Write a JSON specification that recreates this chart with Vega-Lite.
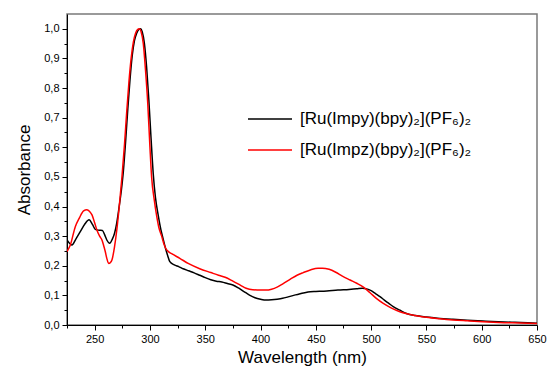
{
  "$schema": "https://vega.github.io/schema/vega-lite/v6.json",
  "width": 470,
  "height": 311,
  "autosize": "none",
  "padding": {"left": 67, "top": 14, "right": 10, "bottom": 47},
  "background": "white",
  "config": {
    "view": {"stroke": "#7a7a7a", "strokeWidth": 1.5},
    "axis": {
      "labelFont": "Liberation Sans", "labelFontSize": 11, "labelColor": "#000",
      "titleFont": "Liberation Sans", "titleFontSize": 17, "titleFontWeight": "normal", "titleColor": "#000",
      "domainColor": "#000", "tickColor": "#000", "domainWidth": 1, "tickWidth": 1, "grid": false
    },
    "legend": {
      "labelFont": "Liberation Sans", "labelFontSize": 17, "labelColor": "#000", "labelLimit": 0
    }
  },
  "data": {
    "values": [
      {"nm":225,"A":0.287,"s":"[Ru(Impy)(bpy)₂](PF₆)₂"},
      {"nm":229.5,"A":0.27,"s":"[Ru(Impy)(bpy)₂](PF₆)₂"},
      {"nm":233,"A":0.29,"s":"[Ru(Impy)(bpy)₂](PF₆)₂"},
      {"nm":237,"A":0.315,"s":"[Ru(Impy)(bpy)₂](PF₆)₂"},
      {"nm":241,"A":0.34,"s":"[Ru(Impy)(bpy)₂](PF₆)₂"},
      {"nm":245,"A":0.355,"s":"[Ru(Impy)(bpy)₂](PF₆)₂"},
      {"nm":248,"A":0.34,"s":"[Ru(Impy)(bpy)₂](PF₆)₂"},
      {"nm":250.6,"A":0.323,"s":"[Ru(Impy)(bpy)₂](PF₆)₂"},
      {"nm":254,"A":0.32,"s":"[Ru(Impy)(bpy)₂](PF₆)₂"},
      {"nm":257,"A":0.319,"s":"[Ru(Impy)(bpy)₂](PF₆)₂"},
      {"nm":259,"A":0.305,"s":"[Ru(Impy)(bpy)₂](PF₆)₂"},
      {"nm":261,"A":0.287,"s":"[Ru(Impy)(bpy)₂](PF₆)₂"},
      {"nm":263.6,"A":0.276,"s":"[Ru(Impy)(bpy)₂](PF₆)₂"},
      {"nm":266,"A":0.29,"s":"[Ru(Impy)(bpy)₂](PF₆)₂"},
      {"nm":268,"A":0.31,"s":"[Ru(Impy)(bpy)₂](PF₆)₂"},
      {"nm":270,"A":0.345,"s":"[Ru(Impy)(bpy)₂](PF₆)₂"},
      {"nm":272,"A":0.395,"s":"[Ru(Impy)(bpy)₂](PF₆)₂"},
      {"nm":274,"A":0.45,"s":"[Ru(Impy)(bpy)₂](PF₆)₂"},
      {"nm":276,"A":0.52,"s":"[Ru(Impy)(bpy)₂](PF₆)₂"},
      {"nm":278,"A":0.62,"s":"[Ru(Impy)(bpy)₂](PF₆)₂"},
      {"nm":280,"A":0.73,"s":"[Ru(Impy)(bpy)₂](PF₆)₂"},
      {"nm":282,"A":0.83,"s":"[Ru(Impy)(bpy)₂](PF₆)₂"},
      {"nm":284,"A":0.91,"s":"[Ru(Impy)(bpy)₂](PF₆)₂"},
      {"nm":286,"A":0.96,"s":"[Ru(Impy)(bpy)₂](PF₆)₂"},
      {"nm":288,"A":0.985,"s":"[Ru(Impy)(bpy)₂](PF₆)₂"},
      {"nm":290,"A":0.998,"s":"[Ru(Impy)(bpy)₂](PF₆)₂"},
      {"nm":291.5,"A":1.0,"s":"[Ru(Impy)(bpy)₂](PF₆)₂"},
      {"nm":293,"A":0.99,"s":"[Ru(Impy)(bpy)₂](PF₆)₂"},
      {"nm":295,"A":0.95,"s":"[Ru(Impy)(bpy)₂](PF₆)₂"},
      {"nm":297,"A":0.87,"s":"[Ru(Impy)(bpy)₂](PF₆)₂"},
      {"nm":299,"A":0.76,"s":"[Ru(Impy)(bpy)₂](PF₆)₂"},
      {"nm":301,"A":0.63,"s":"[Ru(Impy)(bpy)₂](PF₆)₂"},
      {"nm":303,"A":0.51,"s":"[Ru(Impy)(bpy)₂](PF₆)₂"},
      {"nm":305,"A":0.43,"s":"[Ru(Impy)(bpy)₂](PF₆)₂"},
      {"nm":307.5,"A":0.37,"s":"[Ru(Impy)(bpy)₂](PF₆)₂"},
      {"nm":310,"A":0.32,"s":"[Ru(Impy)(bpy)₂](PF₆)₂"},
      {"nm":312,"A":0.29,"s":"[Ru(Impy)(bpy)₂](PF₆)₂"},
      {"nm":314,"A":0.26,"s":"[Ru(Impy)(bpy)₂](PF₆)₂"},
      {"nm":316,"A":0.235,"s":"[Ru(Impy)(bpy)₂](PF₆)₂"},
      {"nm":318,"A":0.214,"s":"[Ru(Impy)(bpy)₂](PF₆)₂"},
      {"nm":322,"A":0.203,"s":"[Ru(Impy)(bpy)₂](PF₆)₂"},
      {"nm":326,"A":0.197,"s":"[Ru(Impy)(bpy)₂](PF₆)₂"},
      {"nm":330,"A":0.19,"s":"[Ru(Impy)(bpy)₂](PF₆)₂"},
      {"nm":335,"A":0.183,"s":"[Ru(Impy)(bpy)₂](PF₆)₂"},
      {"nm":340,"A":0.176,"s":"[Ru(Impy)(bpy)₂](PF₆)₂"},
      {"nm":345,"A":0.168,"s":"[Ru(Impy)(bpy)₂](PF₆)₂"},
      {"nm":350,"A":0.16,"s":"[Ru(Impy)(bpy)₂](PF₆)₂"},
      {"nm":355,"A":0.153,"s":"[Ru(Impy)(bpy)₂](PF₆)₂"},
      {"nm":360,"A":0.148,"s":"[Ru(Impy)(bpy)₂](PF₆)₂"},
      {"nm":365,"A":0.145,"s":"[Ru(Impy)(bpy)₂](PF₆)₂"},
      {"nm":370,"A":0.14,"s":"[Ru(Impy)(bpy)₂](PF₆)₂"},
      {"nm":375,"A":0.135,"s":"[Ru(Impy)(bpy)₂](PF₆)₂"},
      {"nm":380,"A":0.125,"s":"[Ru(Impy)(bpy)₂](PF₆)₂"},
      {"nm":385,"A":0.113,"s":"[Ru(Impy)(bpy)₂](PF₆)₂"},
      {"nm":390,"A":0.101,"s":"[Ru(Impy)(bpy)₂](PF₆)₂"},
      {"nm":395,"A":0.092,"s":"[Ru(Impy)(bpy)₂](PF₆)₂"},
      {"nm":400,"A":0.087,"s":"[Ru(Impy)(bpy)₂](PF₆)₂"},
      {"nm":405,"A":0.084,"s":"[Ru(Impy)(bpy)₂](PF₆)₂"},
      {"nm":410,"A":0.085,"s":"[Ru(Impy)(bpy)₂](PF₆)₂"},
      {"nm":415,"A":0.087,"s":"[Ru(Impy)(bpy)₂](PF₆)₂"},
      {"nm":420,"A":0.09,"s":"[Ru(Impy)(bpy)₂](PF₆)₂"},
      {"nm":425,"A":0.095,"s":"[Ru(Impy)(bpy)₂](PF₆)₂"},
      {"nm":430,"A":0.1,"s":"[Ru(Impy)(bpy)₂](PF₆)₂"},
      {"nm":435,"A":0.105,"s":"[Ru(Impy)(bpy)₂](PF₆)₂"},
      {"nm":440,"A":0.109,"s":"[Ru(Impy)(bpy)₂](PF₆)₂"},
      {"nm":445,"A":0.112,"s":"[Ru(Impy)(bpy)₂](PF₆)₂"},
      {"nm":450,"A":0.113,"s":"[Ru(Impy)(bpy)₂](PF₆)₂"},
      {"nm":460,"A":0.115,"s":"[Ru(Impy)(bpy)₂](PF₆)₂"},
      {"nm":470,"A":0.118,"s":"[Ru(Impy)(bpy)₂](PF₆)₂"},
      {"nm":480,"A":0.12,"s":"[Ru(Impy)(bpy)₂](PF₆)₂"},
      {"nm":487,"A":0.122,"s":"[Ru(Impy)(bpy)₂](PF₆)₂"},
      {"nm":492,"A":0.124,"s":"[Ru(Impy)(bpy)₂](PF₆)₂"},
      {"nm":496,"A":0.122,"s":"[Ru(Impy)(bpy)₂](PF₆)₂"},
      {"nm":500,"A":0.116,"s":"[Ru(Impy)(bpy)₂](PF₆)₂"},
      {"nm":504,"A":0.106,"s":"[Ru(Impy)(bpy)₂](PF₆)₂"},
      {"nm":508,"A":0.096,"s":"[Ru(Impy)(bpy)₂](PF₆)₂"},
      {"nm":512,"A":0.084,"s":"[Ru(Impy)(bpy)₂](PF₆)₂"},
      {"nm":516,"A":0.073,"s":"[Ru(Impy)(bpy)₂](PF₆)₂"},
      {"nm":520,"A":0.062,"s":"[Ru(Impy)(bpy)₂](PF₆)₂"},
      {"nm":526,"A":0.05,"s":"[Ru(Impy)(bpy)₂](PF₆)₂"},
      {"nm":532,"A":0.039,"s":"[Ru(Impy)(bpy)₂](PF₆)₂"},
      {"nm":540,"A":0.032,"s":"[Ru(Impy)(bpy)₂](PF₆)₂"},
      {"nm":550,"A":0.027,"s":"[Ru(Impy)(bpy)₂](PF₆)₂"},
      {"nm":560,"A":0.023,"s":"[Ru(Impy)(bpy)₂](PF₆)₂"},
      {"nm":574,"A":0.019,"s":"[Ru(Impy)(bpy)₂](PF₆)₂"},
      {"nm":587,"A":0.016,"s":"[Ru(Impy)(bpy)₂](PF₆)₂"},
      {"nm":601,"A":0.0135,"s":"[Ru(Impy)(bpy)₂](PF₆)₂"},
      {"nm":615,"A":0.011,"s":"[Ru(Impy)(bpy)₂](PF₆)₂"},
      {"nm":630,"A":0.009,"s":"[Ru(Impy)(bpy)₂](PF₆)₂"},
      {"nm":646,"A":0.007,"s":"[Ru(Impy)(bpy)₂](PF₆)₂"},
      {"nm":650,"A":0.006,"s":"[Ru(Impy)(bpy)₂](PF₆)₂"},
      {"nm":225,"A":0.248,"s":"[Ru(Impz)(bpy)₂](PF₆)₂"},
      {"nm":228,"A":0.27,"s":"[Ru(Impz)(bpy)₂](PF₆)₂"},
      {"nm":232.5,"A":0.332,"s":"[Ru(Impz)(bpy)₂](PF₆)₂"},
      {"nm":236,"A":0.36,"s":"[Ru(Impz)(bpy)₂](PF₆)₂"},
      {"nm":240,"A":0.385,"s":"[Ru(Impz)(bpy)₂](PF₆)₂"},
      {"nm":243,"A":0.389,"s":"[Ru(Impz)(bpy)₂](PF₆)₂"},
      {"nm":245.5,"A":0.383,"s":"[Ru(Impz)(bpy)₂](PF₆)₂"},
      {"nm":247.6,"A":0.372,"s":"[Ru(Impz)(bpy)₂](PF₆)₂"},
      {"nm":250,"A":0.345,"s":"[Ru(Impz)(bpy)₂](PF₆)₂"},
      {"nm":252,"A":0.321,"s":"[Ru(Impz)(bpy)₂](PF₆)₂"},
      {"nm":254.5,"A":0.3,"s":"[Ru(Impz)(bpy)₂](PF₆)₂"},
      {"nm":256.6,"A":0.287,"s":"[Ru(Impz)(bpy)₂](PF₆)₂"},
      {"nm":258,"A":0.27,"s":"[Ru(Impz)(bpy)₂](PF₆)₂"},
      {"nm":259.6,"A":0.248,"s":"[Ru(Impz)(bpy)₂](PF₆)₂"},
      {"nm":261,"A":0.225,"s":"[Ru(Impz)(bpy)₂](PF₆)₂"},
      {"nm":262.7,"A":0.208,"s":"[Ru(Impz)(bpy)₂](PF₆)₂"},
      {"nm":264,"A":0.21,"s":"[Ru(Impz)(bpy)₂](PF₆)₂"},
      {"nm":265.7,"A":0.22,"s":"[Ru(Impz)(bpy)₂](PF₆)₂"},
      {"nm":268,"A":0.265,"s":"[Ru(Impz)(bpy)₂](PF₆)₂"},
      {"nm":270,"A":0.32,"s":"[Ru(Impz)(bpy)₂](PF₆)₂"},
      {"nm":272,"A":0.39,"s":"[Ru(Impz)(bpy)₂](PF₆)₂"},
      {"nm":274.7,"A":0.5,"s":"[Ru(Impz)(bpy)₂](PF₆)₂"},
      {"nm":277,"A":0.61,"s":"[Ru(Impz)(bpy)₂](PF₆)₂"},
      {"nm":279,"A":0.72,"s":"[Ru(Impz)(bpy)₂](PF₆)₂"},
      {"nm":281,"A":0.82,"s":"[Ru(Impz)(bpy)₂](PF₆)₂"},
      {"nm":283,"A":0.9,"s":"[Ru(Impz)(bpy)₂](PF₆)₂"},
      {"nm":285,"A":0.955,"s":"[Ru(Impz)(bpy)₂](PF₆)₂"},
      {"nm":287,"A":0.985,"s":"[Ru(Impz)(bpy)₂](PF₆)₂"},
      {"nm":289,"A":0.998,"s":"[Ru(Impz)(bpy)₂](PF₆)₂"},
      {"nm":290.4,"A":1.0,"s":"[Ru(Impz)(bpy)₂](PF₆)₂"},
      {"nm":292,"A":0.99,"s":"[Ru(Impz)(bpy)₂](PF₆)₂"},
      {"nm":294,"A":0.95,"s":"[Ru(Impz)(bpy)₂](PF₆)₂"},
      {"nm":296,"A":0.86,"s":"[Ru(Impz)(bpy)₂](PF₆)₂"},
      {"nm":298,"A":0.75,"s":"[Ru(Impz)(bpy)₂](PF₆)₂"},
      {"nm":300,"A":0.6,"s":"[Ru(Impz)(bpy)₂](PF₆)₂"},
      {"nm":301.5,"A":0.5,"s":"[Ru(Impz)(bpy)₂](PF₆)₂"},
      {"nm":304,"A":0.42,"s":"[Ru(Impz)(bpy)₂](PF₆)₂"},
      {"nm":306,"A":0.37,"s":"[Ru(Impz)(bpy)₂](PF₆)₂"},
      {"nm":308,"A":0.33,"s":"[Ru(Impz)(bpy)₂](PF₆)₂"},
      {"nm":310.6,"A":0.3,"s":"[Ru(Impz)(bpy)₂](PF₆)₂"},
      {"nm":312.5,"A":0.275,"s":"[Ru(Impz)(bpy)₂](PF₆)₂"},
      {"nm":314.2,"A":0.259,"s":"[Ru(Impz)(bpy)₂](PF₆)₂"},
      {"nm":317,"A":0.247,"s":"[Ru(Impz)(bpy)₂](PF₆)₂"},
      {"nm":320,"A":0.24,"s":"[Ru(Impz)(bpy)₂](PF₆)₂"},
      {"nm":327,"A":0.225,"s":"[Ru(Impz)(bpy)₂](PF₆)₂"},
      {"nm":335,"A":0.207,"s":"[Ru(Impz)(bpy)₂](PF₆)₂"},
      {"nm":345,"A":0.19,"s":"[Ru(Impz)(bpy)₂](PF₆)₂"},
      {"nm":355,"A":0.177,"s":"[Ru(Impz)(bpy)₂](PF₆)₂"},
      {"nm":362,"A":0.168,"s":"[Ru(Impz)(bpy)₂](PF₆)₂"},
      {"nm":368,"A":0.161,"s":"[Ru(Impz)(bpy)₂](PF₆)₂"},
      {"nm":375,"A":0.148,"s":"[Ru(Impz)(bpy)₂](PF₆)₂"},
      {"nm":382,"A":0.134,"s":"[Ru(Impz)(bpy)₂](PF₆)₂"},
      {"nm":387,"A":0.124,"s":"[Ru(Impz)(bpy)₂](PF₆)₂"},
      {"nm":393,"A":0.119,"s":"[Ru(Impz)(bpy)₂](PF₆)₂"},
      {"nm":400,"A":0.118,"s":"[Ru(Impz)(bpy)₂](PF₆)₂"},
      {"nm":405,"A":0.118,"s":"[Ru(Impz)(bpy)₂](PF₆)₂"},
      {"nm":410,"A":0.121,"s":"[Ru(Impz)(bpy)₂](PF₆)₂"},
      {"nm":415,"A":0.128,"s":"[Ru(Impz)(bpy)₂](PF₆)₂"},
      {"nm":420.5,"A":0.14,"s":"[Ru(Impz)(bpy)₂](PF₆)₂"},
      {"nm":427,"A":0.155,"s":"[Ru(Impz)(bpy)₂](PF₆)₂"},
      {"nm":433,"A":0.168,"s":"[Ru(Impz)(bpy)₂](PF₆)₂"},
      {"nm":438.6,"A":0.177,"s":"[Ru(Impz)(bpy)₂](PF₆)₂"},
      {"nm":445,"A":0.186,"s":"[Ru(Impz)(bpy)₂](PF₆)₂"},
      {"nm":452,"A":0.192,"s":"[Ru(Impz)(bpy)₂](PF₆)₂"},
      {"nm":456,"A":0.192,"s":"[Ru(Impz)(bpy)₂](PF₆)₂"},
      {"nm":462,"A":0.188,"s":"[Ru(Impz)(bpy)₂](PF₆)₂"},
      {"nm":468,"A":0.178,"s":"[Ru(Impz)(bpy)₂](PF₆)₂"},
      {"nm":474,"A":0.165,"s":"[Ru(Impz)(bpy)₂](PF₆)₂"},
      {"nm":481,"A":0.152,"s":"[Ru(Impz)(bpy)₂](PF₆)₂"},
      {"nm":487,"A":0.141,"s":"[Ru(Impz)(bpy)₂](PF₆)₂"},
      {"nm":493,"A":0.128,"s":"[Ru(Impz)(bpy)₂](PF₆)₂"},
      {"nm":499,"A":0.109,"s":"[Ru(Impz)(bpy)₂](PF₆)₂"},
      {"nm":505,"A":0.089,"s":"[Ru(Impz)(bpy)₂](PF₆)₂"},
      {"nm":511,"A":0.073,"s":"[Ru(Impz)(bpy)₂](PF₆)₂"},
      {"nm":518,"A":0.058,"s":"[Ru(Impz)(bpy)₂](PF₆)₂"},
      {"nm":526,"A":0.045,"s":"[Ru(Impz)(bpy)₂](PF₆)₂"},
      {"nm":537,"A":0.034,"s":"[Ru(Impz)(bpy)₂](PF₆)₂"},
      {"nm":550,"A":0.026,"s":"[Ru(Impz)(bpy)₂](PF₆)₂"},
      {"nm":562,"A":0.021,"s":"[Ru(Impz)(bpy)₂](PF₆)₂"},
      {"nm":574,"A":0.017,"s":"[Ru(Impz)(bpy)₂](PF₆)₂"},
      {"nm":587,"A":0.014,"s":"[Ru(Impz)(bpy)₂](PF₆)₂"},
      {"nm":601,"A":0.011,"s":"[Ru(Impz)(bpy)₂](PF₆)₂"},
      {"nm":620,"A":0.008,"s":"[Ru(Impz)(bpy)₂](PF₆)₂"},
      {"nm":635,"A":0.0065,"s":"[Ru(Impz)(bpy)₂](PF₆)₂"},
      {"nm":650,"A":0.005,"s":"[Ru(Impz)(bpy)₂](PF₆)₂"}
    ]
  },
  "mark": {"type": "line", "interpolate": "monotone", "strokeWidth": 1.5, "clip": true},
  "encoding": {
    "x": {
      "field": "nm", "type": "quantitative",
      "scale": {"domain": [225, 650], "nice": false, "zero": false},
      "axis": {
        "title": "Wavelength (nm)",
        "values": [225,250,275,300,325,350,375,400,425,450,475,500,525,550,575,600,625,650],
        "labelExpr": "datum.value % 50 === 0 ? datum.label : ''",
        "tickSize": {"condition": {"test": "datum.value % 50 === 0", "value": 5}, "value": 3},
        "labelPadding": 3,
        "titlePadding": 5,
        "labelFlush": false
      }
    },
    "y": {
      "field": "A", "type": "quantitative",
      "scale": {"domain": [0, 1.05], "nice": false},
      "axis": {
        "title": "Absorbance",
        "values": [0,0.05,0.1,0.15,0.2,0.25,0.3,0.35,0.4,0.45,0.5,0.55,0.6,0.65,0.7,0.75,0.8,0.85,0.9,0.95,1.0],
        "labelExpr": "abs(datum.value*10 - round(datum.value*10)) < 0.001 ? replace(format(datum.value, '.1f'), '.', ',') : ''",
        "tickSize": {"condition": {"test": "abs(datum.value*10 - round(datum.value*10)) < 0.001", "value": 5}, "value": 3},
        "labelPadding": 3,
        "titlePadding": 10,
        "labelFlush": false
      }
    },
    "color": {
      "field": "s", "type": "nominal",
      "scale": {"domain": ["[Ru(Impy)(bpy)₂](PF₆)₂", "[Ru(Impz)(bpy)₂](PF₆)₂"], "range": ["#000000", "#ff0000"]},
      "legend": {
        "title": null,
        "orient": "none",
        "legendX": 180,
        "legendY": 82,
        "padding": 0,
        "symbolType": "stroke",
        "symbolSize": 1936,
        "symbolStrokeWidth": 1.5,
        "labelOffset": 7,
        "labelLimit": 0,
        "rowPadding": -15
      }
    }
  }
}
